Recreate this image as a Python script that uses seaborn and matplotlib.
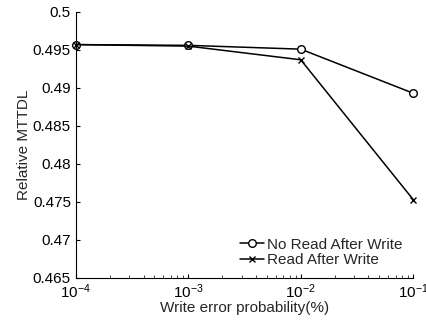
import matplotlib
matplotlib.use('Agg')
import matplotlib.pyplot as plt
import seaborn as sns

# ---------------- DATOS ----------------
error_prob = [1e-4, 1e-3, 1e-2, 1e-1]
no_raw = [0.4957, 0.4956, 0.4951, 0.4893]
raw = [0.4957, 0.4955, 0.4937, 0.4753]
series_names = ['No Read After Write', 'Read After Write']

# ---------------- GRAFICAR ----------------
sns.set_style('ticks')
plt.rcParams['font.family'] = ['Liberation Sans', 'DejaVu Sans']
plt.rcParams['xtick.direction'] = 'in'
plt.rcParams['ytick.direction'] = 'in'

fig = plt.figure(figsize=(4.26, 3.22), dpi=100)
ax = fig.add_axes([0.178, 0.137, 0.792, 0.826])

sns.lineplot(x=error_prob, y=no_raw, color='black', linewidth=1.1,
             marker='o', markersize=5.5, markerfacecolor='white',
             markeredgecolor='black', markeredgewidth=1.0,
             label=series_names[0], clip_on=False, ax=ax)
sns.lineplot(x=error_prob, y=raw, color='black', linewidth=1.1,
             marker='x', markersize=4.5, markeredgecolor='black',
             markeredgewidth=1.0, label=series_names[1], clip_on=False, ax=ax)

ax.set_xscale('log')
ax.set_xlim(1e-4, 1e-1)
ax.set_ylim(0.465, 0.5)
ax.set_yticks([0.465, 0.47, 0.475, 0.48, 0.485, 0.49, 0.495, 0.5])
ax.set_yticklabels(['0.465', '0.47', '0.475', '0.48', '0.485', '0.49', '0.495', '0.5'])
ax.set_xlabel('Write error probability(%)', fontsize=11, labelpad=0)
ax.set_ylabel('Relative MTTDL', fontsize=11, labelpad=1)
ax.tick_params(labelsize=11, length=3, width=0.8, colors='black')
ax.tick_params(which='minor', length=2, width=0.6, direction='in')
for s in ['top', 'right']:
    ax.spines[s].set_visible(False)
for s in ['left', 'bottom']:
    ax.spines[s].set_color('black')
    ax.spines[s].set_linewidth(0.8)

leg = ax.legend(loc='lower right', frameon=False, fontsize=11,
                handlelength=1.6, handletextpad=0.2, borderaxespad=0.3,
                labelspacing=0.1)

fig.savefig('out.png', dpi=100)
